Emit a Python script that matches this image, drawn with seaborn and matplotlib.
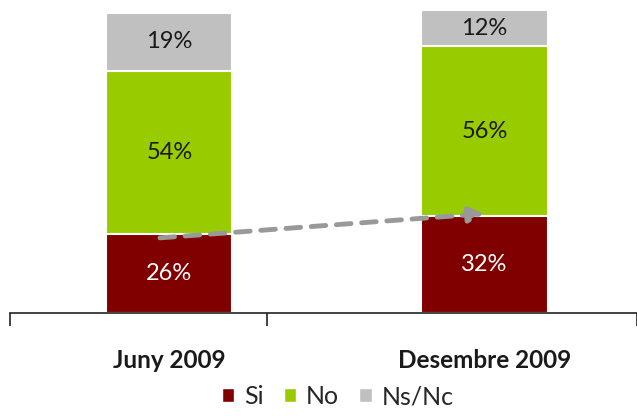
import matplotlib
matplotlib.use("Agg")
import matplotlib.pyplot as plt
from matplotlib.patches import Patch
import pandas as pd
import seaborn as sns

# Dades
periodes = ["Juny 2009", "Desembre 2009"]
si = [26, 32]
no = [54, 56]
nsnc = [19, 12]
series = ["Si", "No", "Ns/Nc"]
colors = ["#800000", "#99CC00", "#C0C0C0"]

sns.set_style("white")
plt.rcParams['font.family'] = ['Lato', 'DejaVu Sans']

df = pd.DataFrame({"periode": periodes, "Si": si, "No": no, "Ns/Nc": nsnc})
df["c_si"] = df["Si"]
df["c_no"] = df["Si"] + df["No"]
df["c_ns"] = df["Si"] + df["No"] + df["Ns/Nc"]

fig = plt.figure(figsize=(6.37, 4.16), dpi=100)
ax = fig.add_axes([10 / 637, 103 / 416, 627 / 637, 303 / 416])

# barres apilades (acumulades, de la més alta a la més baixa)
for col, c in zip(["c_ns", "c_no", "c_si"], colors[::-1]):
    sns.barplot(data=df, x="periode", y=col, order=periodes, color=c,
                width=0.4, edgecolor="white", linewidth=1.5, ax=ax,
                saturation=1)

# etiquetes
for i in range(len(periodes)):
    baix = 0
    for val, tc in zip([si[i], no[i], nsnc[i]], ["white", "#1a1a1a", "#1a1a1a"]):
        ax.text(i, baix + val / 2, f"{val}%", ha="center", va="center",
                fontsize=17, color=tc)
        baix += val

# fletxa discontínua
ax.annotate("", xy=(1.0, si[1] + 0.8), xytext=(-0.03, si[0] - 1.2),
            arrowprops=dict(arrowstyle="-|>,head_length=0.9,head_width=0.45",
                            color="#999999", lw=3.5, linestyle=(0, (3, 2.2)),
                            shrinkA=0, shrinkB=0))

ax.set_xlim(-0.506, 1.484)
ax.set_ylim(0, 100)
ax.set_yticks([])
ax.set_xlabel("")
ax.set_ylabel("")
for s in ["top", "right", "left"]:
    ax.spines[s].set_visible(False)
ax.spines["bottom"].set_color("#222222")
ax.spines["bottom"].set_linewidth(1.2)

# marques de l'eix
ax.set_xticks([-0.506, 0.31, 1.483], minor=True)
ax.tick_params(axis="x", which="minor", bottom=True, length=9, width=1.2,
               color="#222222", direction="out")
ax.tick_params(axis="x", which="major", bottom=False, length=0, pad=26)
ax.set_xticks([0, 1])
ax.set_xticklabels(periodes, fontsize=17.5, fontweight="bold", color="#1a1a1a")

handles = [Patch(facecolor=c, label=s) for s, c in zip(series, colors)]
fig.legend(handles=handles, loc="lower center", bbox_to_anchor=(0.53, -0.035),
           ncol=3, frameon=False, fontsize=18, handlelength=0.5,
           handleheight=0.5, handletextpad=0.4, columnspacing=0.8)

fig.savefig("out.png", dpi=100)
